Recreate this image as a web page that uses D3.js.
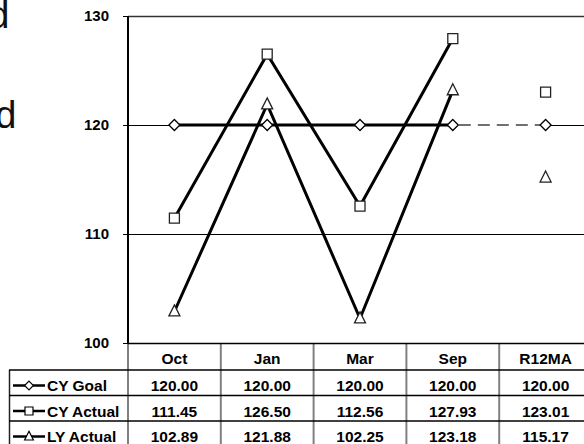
<!DOCTYPE html>
<html>
<head>
<meta charset="utf-8">
<script src="https://cdn.jsdelivr.net/npm/d3@7"></script>
<style>
html,body{margin:0;padding:0;background:#fff;}
svg{display:block;}
text{font-family:"Liberation Sans",Arial,sans-serif;}
</style>
</head>
<body>
<svg id="chart" width="584" height="444"></svg>
<script>
const categories = ["Oct", "Jan", "Mar", "Sep", "R12MA"];
const seriesNames = ["CY Goal", "CY Actual", "LY Actual"];
const cyGoal = [120.00, 120.00, 120.00, 120.00, 120.00];
const cyActual = [111.45, 126.50, 112.56, 127.93, 123.01];
const lyActual = [102.89, 121.88, 102.25, 123.18, 115.17];
const yTicks = [100, 110, 120, 130];
const sideLabels = ["d", "d"];

(function () {
const svg = d3.select("#chart");
const W = 584, H = 444;
const pLeft = 128, pTop = 16, pBottom = 343;
const colW = 92.8;
const FS = 15.5;
const x = d3.scaleBand().domain(categories).range([pLeft, pLeft + categories.length * colW]).padding(0);
const y = d3.scaleLinear().domain([100, 130]).range([pBottom, pTop]);
const cx = c => x(c) + x.bandwidth() / 2;

// cut-off side text
svg.append("text").attr("x", 9.5).attr("y", 28).attr("text-anchor", "end")
  .attr("font-size", 38).attr("fill", "#111").text(sideLabels[0]);
svg.append("text").attr("x", 16.5).attr("y", 128).attr("text-anchor", "end")
  .attr("font-size", 38).attr("fill", "#111").text(sideLabels[1]);

// gridlines
svg.append("g").selectAll("line").data(yTicks).join("line")
  .attr("x1", pLeft).attr("x2", W)
  .attr("y1", d => Math.round(y(d)) + 0.5).attr("y2", d => Math.round(y(d)) + 0.5)
  .attr("stroke", d => d === 130 ? "#333" : "#000")
  .attr("stroke-width", d => d === 130 ? 1.5 : 1);

// y axis
const yAxis = d3.axisLeft(y).tickValues(yTicks).tickSize(5).tickPadding(14).tickFormat(d3.format("d"));
const gy = svg.append("g").attr("transform", `translate(${pLeft},0)`).call(yAxis);
gy.select(".domain").remove();
gy.selectAll(".tick line").attr("stroke", "#000");
gy.selectAll(".tick text").attr("font-size", 15).attr("font-weight", "bold")
  .attr("fill", "#000").attr("font-family", "Liberation Sans, Arial, sans-serif");

// table lines
const rowTop = [343, 370, 395.5, 421, 446.5];
const tbl = svg.append("g");
const vx = categories.map(c => x(c)).slice(1);
tbl.selectAll("line.v").data(vx).join("line").attr("class", "v")
  .attr("x1", d => d).attr("x2", d => d).attr("y1", rowTop[0]).attr("y2", H)
  .attr("stroke", "#808080").attr("stroke-width", 2);
tbl.append("line").attr("x1", 9.5).attr("x2", 9.5).attr("y1", rowTop[1]).attr("y2", H)
  .attr("stroke", "#222").attr("stroke-width", 1.5);
tbl.append("line").attr("x1", pLeft).attr("x2", pLeft).attr("y1", pBottom).attr("y2", H)
  .attr("stroke", "#808080").attr("stroke-width", 2);
tbl.selectAll("line.h").data(rowTop.slice(1, 4)).join("line").attr("class", "h")
  .attr("x1", 9).attr("x2", W).attr("y1", d => d).attr("y2", d => d)
  .attr("stroke", "#000").attr("stroke-width", 1.5);
tbl.append("line").attr("x1", pLeft).attr("x2", W).attr("y1", pBottom + 0.5).attr("y2", pBottom + 0.5)
  .attr("stroke", "#000").attr("stroke-width", 1.5);

svg.append("line").attr("x1", pLeft).attr("x2", pLeft).attr("y1", pTop).attr("y2", pBottom + 1)
  .attr("stroke", "#000").attr("stroke-width", 2);

tbl.selectAll("text.hdr").data(categories).join("text").attr("class", "hdr")
  .attr("x", d => cx(d)).attr("y", 363.5)
  .attr("text-anchor", "middle").attr("font-size", FS).attr("font-weight", "bold").text(d => d);

const seriesData = [cyGoal, cyActual, lyActual];
const fmt = d3.format(".2f");
seriesData.forEach((vals, i) => {
  const yb = rowTop[i + 2] - 4.5;
  tbl.selectAll(null).data(categories).join("text")
    .attr("x", d => cx(d)).attr("y", yb)
    .attr("text-anchor", "middle").attr("font-size", FS).attr("font-weight", "bold")
    .text((d, j) => fmt(vals[j]));
});

function markerPath(type, px, py, k) {
  k = k || 1;
  if (type === 0) { const r = 5.5 * k; return `M${px},${py - r}L${px + r},${py}L${px},${py + r}L${px - r},${py}Z`; }
  if (type === 1) { const s = 5 * k; return `M${px - s},${py - s}H${px + s}V${py + s}H${px - s}Z`; }
  const w = 5.5 * k, h = 11 * k; return `M${px},${py - h * 0.6}L${px + w},${py + h * 0.4}L${px - w},${py + h * 0.4}Z`;
}

seriesNames.forEach((name, i) => {
  const yb = rowTop[i + 2] - 4.5;
  const yc = yb - 5.5;
  tbl.append("line").attr("x1", 13).attr("x2", 45).attr("y1", yc).attr("y2", yc)
    .attr("stroke", "#000").attr("stroke-width", 2.5);
  tbl.append("path").attr("d", markerPath(i, 29, yc, 0.8))
    .attr("fill", "#fff").attr("stroke", "#000").attr("stroke-width", 1.2);
  tbl.append("text").attr("x", 47).attr("y", yb).attr("font-size", FS).attr("font-weight", "bold").text(name);
});

const mainCats = categories.slice(0, 4);
const line = d3.line().x(d => cx(d.c)).y(d => y(d.v));
const plot = svg.append("g");
const lastC = categories[3], rC = categories[4];
plot.append("line").attr("x1", cx(lastC)).attr("x2", cx(rC)).attr("y1", y(cyGoal[3])).attr("y2", y(cyGoal[4]))
  .attr("stroke", "#fff").attr("stroke-width", 3);
plot.append("line").attr("x1", cx(lastC) + 6).attr("x2", cx(rC)).attr("y1", y(cyGoal[3])).attr("y2", y(cyGoal[4]))
  .attr("stroke", "#707070").attr("stroke-width", 2).attr("stroke-dasharray", "12,7");

seriesData.forEach((vals, i) => {
  const pts = mainCats.map((c, j) => ({ c, v: vals[j] }));
  plot.append("path").attr("d", line(pts)).attr("fill", "none")
    .attr("stroke", "#000").attr("stroke-width", 3).attr("stroke-linejoin", "miter");
});
seriesData.forEach((vals, i) => {
  plot.selectAll(null).data(categories).join("path")
    .attr("d", (c, j) => markerPath(i, cx(c), y(vals[j])))
    .attr("fill", "#fff").attr("stroke", i === 0 ? "#000" : "#222").attr("stroke-width", 1.3);
});
})();
</script>
</body>
</html>
